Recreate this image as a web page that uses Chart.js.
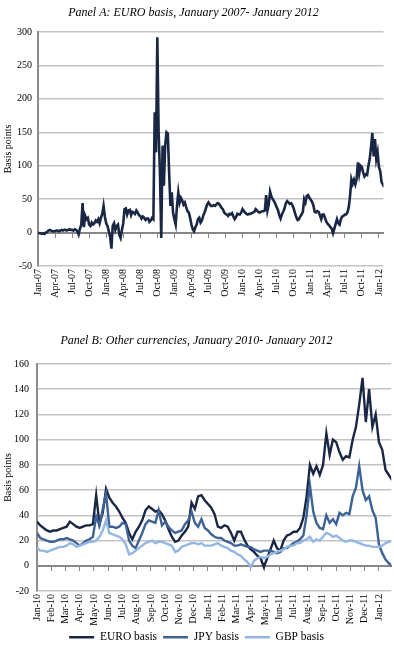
<!DOCTYPE html>
<html>
<head>
<meta charset="utf-8">
<script src="https://cdn.jsdelivr.net/npm/chart.js@4.4.1/dist/chart.umd.min.js"></script>
<style>
	html, body { margin: 0; padding: 0; background: #fff; overflow: hidden; }
	body { width: 394px; height: 647px; position: relative; }
	.panel { position: absolute; left: 0; width: 394px; }
	#panelA { top: 0; height: 310px; }
	#panelB { top: 322px; height: 331px; }
</style>
</head>
<body>
<div class="panel" id="panelA"><canvas id="chartA" width="394" height="310"></canvas></div>
<div class="panel" id="panelB"><canvas id="chartB" width="394" height="331"></canvas></div>
<script>
// weekly basis readings (bp), one array per calendar year
const euro2007 = [0, -1, -1, -2, -1, -2, 0, 1, 3, 4, 3, 2, 2, 2, 3, 3, 2, 3, 4, 3, 4, 4, 3, 4, 5, 4, 4, 3, 5, 4, 2, -3, 6, 12, 44, 8, 25, 20, 22, 12, 10, 15, 12, 14, 18, 16, 20, 14, 22, 28, 40, 24];
const euro2008 = [14, 10, 2, -6, -24, 10, 14, 4, 10, 12, -3, -8, 4, 14, 35, 36, 27, 33, 34, 26, 31, 30, 28, 33, 30, 26, 25, 21, 24, 22, 19, 21, 21, 16, 18, 22, 20, 180, 120, 292, 150, 90, -8, 130, 70, 130, 150, 148, 90, 40, 60, 30];
const euro2009 = [20, 12, 40, 60, 45, 52, 48, 42, 45, 38, 32, 30, 22, 12, 5, 2, 8, 12, 20, 22, 15, 18, 25, 30, 36, 42, 45, 42, 40, 40, 41, 40, 42, 44, 43, 40, 37, 35, 30, 28, 27, 25, 28, 27, 29, 24, 20, 23, 28, 27, 27, 30];
const euro2010 = [35, 32, 30, 28, 27, 28, 28, 29, 30, 31, 35, 33, 31, 30, 31, 32, 32, 33, 56, 33, 42, 61, 54, 50, 47, 43, 38, 34, 26, 21, 27, 31, 36, 44, 47, 45, 43, 44, 41, 36, 29, 23, 19, 20, 24, 27, 31, 50, 45, 55, 56, 52];
const euro2011 = [49, 46, 41, 31, 30, 32, 31, 26, 20, 27, 27, 21, 16, 13, 11, 8, 6, -1, 6, 13, 20, 14, 12, 20, 24, 25, 27, 27, 30, 38, 55, 80, 73, 79, 72, 80, 105, 88, 100, 98, 90, 84, 87, 86, 100, 110, 128, 149, 114, 140, 110, 120];
const euro2012 = [98, 92, 76, 72, 68];

const jpy2010 = [26, 22, 21, 20, 19, 19, 20, 21, 21, 22, 21, 20, 18, 16, 18, 20, 21, 23, 39, 32, 45, 57, 31, 31, 30, 31, 34, 33, 20, 16, 14, 20, 26, 33, 36, 35, 34, 44, 32, 35, 31, 28, 26, 27, 28, 33, 36, 43, 34, 31, 37, 30];
const jpy2011 = [28, 25, 23, 22, 22, 20, 19, 18, 16, 16, 17, 16, 15, 15, 13, 12, 11, 12, 12, 12, 11, 10, 11, 14, 14, 16, 18, 19, 21, 24, 40, 64, 43, 34, 30, 29, 40, 34, 37, 33, 42, 40, 42, 41, 55, 62, 79, 60, 52, 55, 44, 38];
const jpy2012 = [17, 10, 5, 2, 0];

const gbp2010 = [14, 12, 12, 11, 12, 13, 14, 15, 15, 16, 18, 17, 15, 16, 17, 18, 19, 19, 20, 23, 28, 36, 26, 25, 24, 23, 21, 17, 9, 10, 12, 14, 16, 18, 19, 20, 18, 19, 19, 18, 17, 16, 11, 12, 15, 16, 17, 18, 18, 17, 18, 16];
const gbp2011 = [16, 16, 17, 18, 16, 15, 14, 12, 11, 9, 8, 5, 3, -1, 4, 6, 7, 6, 7, 9, 10, 11, 12, 13, 15, 16, 16, 18, 18, 20, 21, 23, 19, 21, 20, 23, 26, 25, 23, 24, 22, 20, 19, 20, 20, 19, 18, 17, 16, 16, 15, 15];
const gbp2012 = [15, 16, 18, 19, 20];

const MONTHS = ['Jan', 'Feb', 'Mar', 'Apr', 'May', 'Jun', 'Jul', 'Aug', 'Sep', 'Oct', 'Nov', 'Dec'];

const SERIF = '"Liberation Serif", "Times New Roman", serif';
const EURO_COLOR = '#1a2744';
const JPY_COLOR = '#3d6296';
const GBP_COLOR = '#93b6e3';
const GRID_COLOR = '#c4c4c4';
const AXIS_COLOR = '#878787';

Chart.defaults.font.family = SERIF;
Chart.defaults.color = '#000';

// x is measured in months from January of baseYear
const toPoints = (years, baseYear) => years.flatMap(([year, values]) =>
	values.map((v, i) => ({ x: (year - baseYear) * 12 + i * 12 / 52, y: v }))
);

const monthLabel = (baseYear) => (value) => {
	const m = Math.round(value);
	return `${MONTHS[m % 12]}-${String(baseYear + Math.floor(m / 12)).slice(2)}`;
};

const buildScales = ({ baseYear, xMax, step, yMin, yMax, yStep, yWidth, yPad, xHeight }) => ({
	x: {
		type: 'linear', min: 0, max: xMax,
		grid: { display: false, drawTicks: false },
		border: { display: false },
		ticks: {
			stepSize: step, includeBounds: false, autoSkip: false,
			minRotation: 90, maxRotation: 90, padding: 3,
			font: { size: 10 }, color: '#000',
			callback: monthLabel(baseYear),
		},
		afterFit: (s) => { s.height = xHeight; },
	},
	// zero line with its tick marks, as in the source sheet
	x0: {
		type: 'linear', min: 0, max: xMax, position: { y: 0 },
		grid: { drawOnChartArea: false, drawTicks: true, tickLength: 4, color: AXIS_COLOR, lineWidth: 1 },
		border: { color: AXIS_COLOR, width: 2 },
		ticks: { stepSize: step, includeBounds: false, display: false },
	},
	y: {
		min: yMin, max: yMax,
		ticks: { stepSize: yStep, padding: yPad, font: { size: 10 }, color: '#000' },
		grid: { color: GRID_COLOR, lineWidth: 1.5, drawTicks: false },
		border: { color: '#8c8c8c', width: 2 },
		title: { display: true, text: 'Basis points', font: { size: 10 }, color: '#000', padding: { top: 2, bottom: 0 } },
		afterFit: (s) => { s.width = yWidth; },
	},
});

const titleFont = { family: SERIF, size: 12, style: 'italic', weight: 'normal' };

new Chart(document.getElementById('chartA'), {
	type: 'line',
	data: {
		datasets: [{
			label: 'EURO basis',
			data: toPoints([[2007, euro2007], [2008, euro2008], [2009, euro2009], [2010, euro2010], [2011, euro2011], [2012, euro2012]], 2007),
			borderColor: EURO_COLOR, backgroundColor: EURO_COLOR,
			borderWidth: 2.6, pointRadius: 0, tension: 0, xAxisID: 'x', yAxisID: 'y',
		}],
	},
	options: {
		responsive: false,
		animation: false,
		layout: { padding: { left: 0, right: 7, top: 0, bottom: 0 } },
		plugins: {
			legend: { display: false },
			tooltip: { enabled: false },
			title: {
				display: true, text: 'Panel A: EURO basis, January 2007- January 2012',
				font: titleFont, color: '#000', padding: { top: 5.5, bottom: 12.1 },
			},
		},
		scales: buildScales({ baseYear: 2007, xMax: 60.8, step: 3, yMin: -50, yMax: 300, yStep: 50, yWidth: 38, yPad: 6, xHeight: 44 }),
	},
});

new Chart(document.getElementById('chartB'), {
	type: 'line',
	data: {
		datasets: [
			{
				label: 'EURO basis',
				data: toPoints([[2010, euro2010], [2011, euro2011], [2012, euro2012]], 2010),
				borderColor: EURO_COLOR, backgroundColor: EURO_COLOR, order: 3,
			},
			{
				label: 'JPY basis',
				data: toPoints([[2010, jpy2010], [2011, jpy2011], [2012, jpy2012]], 2010),
				borderColor: JPY_COLOR, backgroundColor: JPY_COLOR, order: 2,
			},
			{
				label: 'GBP basis',
				data: toPoints([[2010, gbp2010], [2011, gbp2011], [2012, gbp2012]], 2010),
				borderColor: GBP_COLOR, backgroundColor: GBP_COLOR, order: 1,
			},
		].map((d) => ({ ...d, borderWidth: 2.4, pointRadius: 0, tension: 0, xAxisID: 'x', yAxisID: 'y' })),
	},
	options: {
		responsive: false,
		animation: false,
		layout: { padding: { left: 0, right: 1, top: 0, bottom: 0 } },
		plugins: {
			tooltip: { enabled: false },
			title: {
				display: true, text: 'Panel B: Other currencies, January 2010- January 2012',
				font: titleFont, color: '#000', padding: { top: 11.8, bottom: 15.8 },
			},
			legend: {
				position: 'bottom',
				labels: {
					usePointStyle: true, pointStyle: 'line', pointStyleWidth: 25,
					padding: 6, font: { size: 11.5 }, color: '#000',
					sort: (a, b) => a.datasetIndex - b.datasetIndex,
				},
			},
		},
		scales: buildScales({ baseYear: 2010, xMax: 24.86, step: 1, yMin: -20, yMax: 160, yStep: 20, yWidth: 37, yPad: 8, xHeight: 34.5 }),
	},
});
</script>
</body>
</html>
